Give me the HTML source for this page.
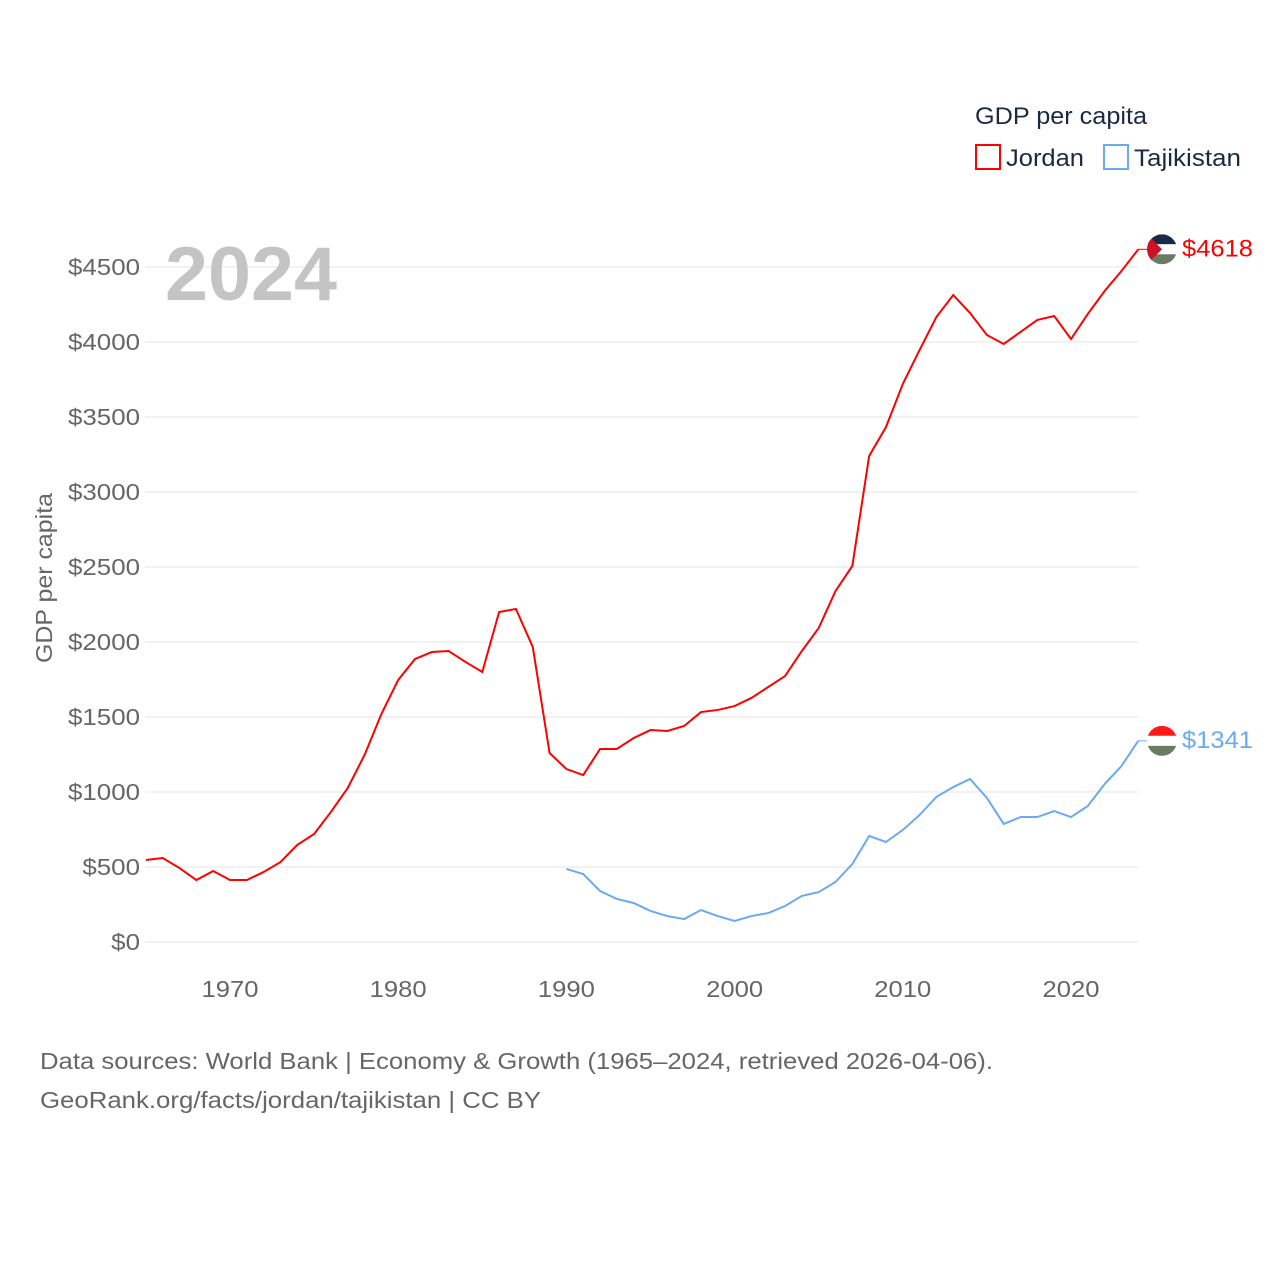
<!DOCTYPE html>
<html><head><meta charset="utf-8"><style>
html,body{margin:0;padding:0;background:#fff;width:1280px;height:1280px;overflow:hidden;font-family:"Liberation Sans",sans-serif}
</style></head><body>
<svg width="1280" height="1280" id="chart">
<g id="grid"></g><g id="series"></g><g id="labels"></g>
</svg>
<script>
const years=[];for(let y=1965;y<=2024;y++)years.push(y);
const jordan=[547,560,493,413,473,413,413,467,533,647,720,867,1027,1247,1520,1747,1887,1933,1940,1867,1800,2200,2220,1967,1260,1153,1113,1287,1287,1360,1413,1407,1440,1533,1547,1573,1627,1700,1773,1940,2093,2340,2507,3240,3433,3720,3947,4167,4313,4193,4047,3987,4067,4147,4173,4020,4187,4340,4473,4618];
const tajYears=[];for(let y=1990;y<=2024;y++)tajYears.push(y);
const tajik=[487,453,340,287,260,207,173,153,213,173,140,173,193,240,307,333,400,520,707,667,747,847,967,1033,1087,960,787,833,833,873,833,907,1053,1173,1341];
const yTicks=[0,500,1000,1500,2000,2500,3000,3500,4000,4500];
const xTicks=[1970,1980,1990,2000,2010,2020];
const NS="http://www.w3.org/2000/svg";
const X=y=>145.9+(y-1965)*16.82;
const Y=v=>942-v*0.15;
const svg=document.getElementById('chart');
function mk(tag,attrs,parent,text){const e=document.createElementNS(NS,tag);for(const k in attrs)e.setAttribute(k,attrs[k]);if(text!==undefined)e.textContent=text;(parent||svg).appendChild(e);return e;}
const grid=document.getElementById('grid'),ser=document.getElementById('series'),lab=document.getElementById('labels');
yTicks.forEach(v=>{
 const l=mk('line',{x1:145,x2:1138,y1:Y(v),y2:Y(v),stroke:'#e6e6e6','stroke-width':1},grid);
 
 
 const s='$'+v;
 const t=mk('text',{x:140,y:Y(v)+8,'text-anchor':'end','font-size':23,fill:'#666',textLength:s.length*14.4,lengthAdjust:'spacingAndGlyphs'},grid,s);
 
 
});
xTicks.forEach(v=>{
 const t=mk('text',{x:X(v),y:997,'text-anchor':'middle','font-size':23,fill:'#666',textLength:57,lengthAdjust:'spacingAndGlyphs'},grid,String(v));
 
 
});
const jp=mk('polyline',{points:jordan.map((v,i)=>X(years[i])+','+Y(v)).join(' '),fill:'none',stroke:'#ff0000','stroke-width':2},ser);


const tp=mk('polyline',{points:tajik.map((v,i)=>X(tajYears[i])+','+Y(v)).join(' '),fill:'none',stroke:'#6aaaf0','stroke-width':2},ser);


function endLabel(val,color,name,flag){
 const y=Y(val);
 const l=mk('line',{x1:1138,x2:1150,y1:y,y2:y,stroke:color,'stroke-width':1},lab);
 
 
 const g=mk('g',{},lab);
 
 
 const cp=mk('clipPath',{id:'c'+name},g);mk('circle',{cx:1162,cy:y,r:15},cp);
 const gg=mk('g',{'clip-path':'url(#c'+name+')'},g);
 mk('rect',{x:1147,y:y-15,width:30,height:10,fill:flag[0]},gg);
 mk('rect',{x:1147,y:y-5,width:30,height:10,fill:flag[1]},gg);
 mk('rect',{x:1147,y:y+5,width:30,height:10,fill:flag[2]},gg);
 if(name==='jordan')mk('polygon',{points:`1147,${y-15} 1162,${y} 1147,${y+15}`,fill:'#ce1126'},gg);
 const t=mk('text',{x:1182,y:y+7,'font-size':24,fill:color,textLength:71,lengthAdjust:'spacingAndGlyphs'},lab,'$'+val);
 
 
}
endLabel(jordan[jordan.length-1],'#ff0000','jordan',['#1b2a44','#ffffff','#6b7a63']);
endLabel(tajik[tajik.length-1],'#6aaaf0','tajikistan',['#ff1a1a','#ffffff','#6b7a63']);
</script>
<svg width="1280" height="1280" style="position:absolute;left:0;top:0">
<text x="165" y="300" font-size="76" font-weight="bold" fill="#c4c4c4" textLength="172" lengthAdjust="spacingAndGlyphs">2024</text>
<text x="52" y="578" font-size="23" fill="#666" text-anchor="middle" textLength="170" lengthAdjust="spacingAndGlyphs" transform="rotate(-90 52 578)">GDP per capita</text>
<text x="975" y="124" font-size="24" fill="#1a2a44" textLength="172" lengthAdjust="spacingAndGlyphs">GDP per capita</text>
<g><rect x="976" y="145" width="24" height="24" fill="none" stroke="#ff0000" stroke-width="2"/><text x="1006" y="166" font-size="24" fill="#1a2a44" textLength="78" lengthAdjust="spacingAndGlyphs">Jordan</text></g>
<g><rect x="1104" y="145" width="24" height="24" fill="none" stroke="#6aaaf0" stroke-width="2"/><text x="1134" y="166" font-size="24" fill="#1a2a44" textLength="107" lengthAdjust="spacingAndGlyphs">Tajikistan</text></g>
<text x="40" y="1069" font-size="23" fill="#666" textLength="953" lengthAdjust="spacingAndGlyphs">Data sources: World Bank | Economy &amp; Growth (1965–2024, retrieved 2026-04-06).</text>
<text x="40" y="1108" font-size="23" fill="#666" textLength="501" lengthAdjust="spacingAndGlyphs">GeoRank.org/facts/jordan/tajikistan | CC BY</text>
</svg>
</body></html>
